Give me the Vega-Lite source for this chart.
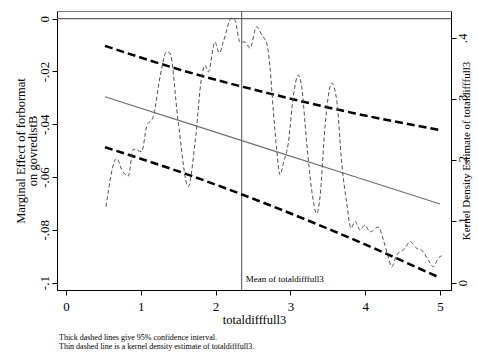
{
  "$schema": "https://vega.github.io/schema/vega-lite/v6.json",
  "width": 394,
  "height": 279,
  "autosize": {"type": "none"},
  "padding": {"left": 57, "top": 11, "right": 27, "bottom": 62},
  "background": "white",
  "config": {
    "font": "Liberation Serif",
    "view": {"stroke": "#808080", "strokeWidth": 1},
    "title": {"color": "black", "font": "Liberation Serif"},
    "axis": {
      "grid": false,
      "domainColor": "#000000",
      "tickColor": "#000000",
      "labelColor": "#000000",
      "titleColor": "#000000",
      "labelFont": "Liberation Serif",
      "titleFont": "Liberation Serif",
      "labelFontSize": 13,
      "titleFontSize": 12.5,
      "titleFontWeight": "normal",
      "tickSize": 5,
      "domainWidth": 1,
      "tickWidth": 1
    }
  },
  "title": {
    "text": [
      "Thick dashed lines give 95% confidence interval.",
      "Thin dashed line is a kernel density estimate of totaldifffull3."
    ],
    "orient": "bottom",
    "anchor": "start",
    "frame": "group",
    "font": "Liberation Serif",
    "fontSize": 8,
    "fontWeight": "normal",
    "color": "black",
    "lineHeight": 9,
    "offset": 8,
    "dx": 2
  },
  "datasets": {
    "effect": [
      {"x": 0.521, "center": -0.0296, "upper": -0.0103, "lower": -0.0487},
      {"x": 1.591, "center": -0.0393, "upper": -0.0199, "lower": -0.0587},
      {"x": 2.727, "center": -0.0496, "upper": -0.0284, "lower": -0.0707},
      {"x": 3.864, "center": -0.0599, "upper": -0.0359, "lower": -0.0839},
      {"x": 5.0, "center": -0.0702, "upper": -0.0422, "lower": -0.0982}
    ],
    "density": [
      {"x": 0.535, "d": 0.124}, {"x": 0.678, "d": 0.203}, {"x": 0.744, "d": 0.185},
      {"x": 0.833, "d": 0.174}, {"x": 0.9, "d": 0.218}, {"x": 1.012, "d": 0.214},
      {"x": 1.079, "d": 0.255}, {"x": 1.167, "d": 0.271}, {"x": 1.257, "d": 0.336},
      {"x": 1.346, "d": 0.377}, {"x": 1.39, "d": 0.375}, {"x": 1.497, "d": 0.266},
      {"x": 1.635, "d": 0.157}, {"x": 1.725, "d": 0.228}, {"x": 1.814, "d": 0.336},
      {"x": 1.858, "d": 0.355}, {"x": 1.902, "d": 0.344}, {"x": 1.992, "d": 0.393},
      {"x": 2.049, "d": 0.375}, {"x": 2.103, "d": 0.393}, {"x": 2.215, "d": 0.432},
      {"x": 2.259, "d": 0.429}, {"x": 2.326, "d": 0.393}, {"x": 2.393, "d": 0.393},
      {"x": 2.46, "d": 0.383}, {"x": 2.549, "d": 0.418}, {"x": 2.62, "d": 0.404},
      {"x": 2.683, "d": 0.391}, {"x": 2.727, "d": 0.353}, {"x": 2.771, "d": 0.282},
      {"x": 2.817, "d": 0.217}, {"x": 2.861, "d": 0.176}, {"x": 2.905, "d": 0.195},
      {"x": 2.972, "d": 0.228}, {"x": 3.039, "d": 0.304}, {"x": 3.106, "d": 0.339},
      {"x": 3.151, "d": 0.32}, {"x": 3.218, "d": 0.228}, {"x": 3.285, "d": 0.151},
      {"x": 3.352, "d": 0.113}, {"x": 3.396, "d": 0.14}, {"x": 3.463, "d": 0.255},
      {"x": 3.552, "d": 0.326}, {"x": 3.619, "d": 0.298}, {"x": 3.686, "d": 0.195},
      {"x": 3.753, "d": 0.13}, {"x": 3.81, "d": 0.089}, {"x": 3.864, "d": 0.1},
      {"x": 3.93, "d": 0.086}, {"x": 3.997, "d": 0.094}, {"x": 4.064, "d": 0.083},
      {"x": 4.175, "d": 0.091}, {"x": 4.242, "d": 0.07}, {"x": 4.309, "d": 0.042},
      {"x": 4.354, "d": 0.026}, {"x": 4.421, "d": 0.045}, {"x": 4.532, "d": 0.056},
      {"x": 4.599, "d": 0.067}, {"x": 4.689, "d": 0.056}, {"x": 4.755, "d": 0.053},
      {"x": 4.844, "d": 0.037}, {"x": 4.91, "d": 0.026}, {"x": 4.977, "d": 0.04},
      {"x": 5.023, "d": 0.044}
    ],
    "meanline": [
      {"x": 2.349, "y": -0.1, "label": "Mean of totaldifffull3"}
    ],
    "zeroline": [
      {"y": 0}
    ]
  },
  "layer": [
    {
      "layer": [
        {
          "data": {"name": "zeroline"},
          "mark": {"type": "rule", "color": "#606060", "strokeWidth": 1.4},
          "encoding": {
            "y": {
              "field": "y",
              "type": "quantitative",
              "scale": {"domain": [-0.1028, 0.0029], "nice": false, "zero": false},
              "axis": {
                "orient": "left",
                "values": [0, -0.02, -0.04, -0.06, -0.08, -0.1],
                "labelExpr": "datum.value == 0 ? '0' : '-' + replace(format(abs(datum.value), '.2~f'), '0.', '.')",
                "labelAngle": -90,
                "labelAlign": "center",
                "labelBaseline": "bottom",
                "labelPadding": 1,
                "title": ["Marginal Effect of forbormat", "on govredistB"],
                "titleLineHeight": 12,
                "titlePadding": -1
              }
            }
          }
        },
        {
          "data": {"name": "meanline"},
          "mark": {"type": "rule", "color": "#505050", "strokeWidth": 1},
          "encoding": {
            "x": {
              "field": "x",
              "type": "quantitative",
              "scale": {"domain": [-0.12, 5.147], "nice": false, "zero": false},
              "axis": {
                "values": [0, 1, 2, 3, 4, 5],
                "format": "d",
                "labelPadding": 5,
                "titlePadding": 0,
                "title": "totaldifffull3"
              }
            }
          }
        },
        {
          "data": {"name": "meanline"},
          "mark": {"type": "text", "align": "left", "baseline": "alphabetic", "dx": 4, "dy": -1, "fontSize": 9, "font": "Liberation Serif", "color": "#000000"},
          "encoding": {
            "x": {"field": "x", "type": "quantitative"},
            "y": {"field": "y", "type": "quantitative"},
            "text": {"field": "label"}
          }
        },
        {
          "data": {"name": "effect"},
          "mark": {"type": "line", "color": "#707070", "strokeWidth": 1.2},
          "encoding": {
            "x": {"field": "x", "type": "quantitative"},
            "y": {"field": "center", "type": "quantitative"}
          }
        },
        {
          "data": {"name": "effect"},
          "mark": {"type": "line", "color": "#000000", "strokeWidth": 2.5, "strokeDash": [8, 4], "interpolate": "monotone"},
          "encoding": {
            "x": {"field": "x", "type": "quantitative"},
            "y": {"field": "upper", "type": "quantitative"}
          }
        },
        {
          "data": {"name": "effect"},
          "mark": {"type": "line", "color": "#000000", "strokeWidth": 2.5, "strokeDash": [8, 4], "interpolate": "monotone"},
          "encoding": {
            "x": {"field": "x", "type": "quantitative"},
            "y": {"field": "lower", "type": "quantitative"}
          }
        }
      ]
    },
    {
      "data": {"name": "density"},
      "mark": {"type": "line", "color": "#505050", "strokeWidth": 1, "strokeDash": [4, 2.5], "interpolate": "monotone"},
      "encoding": {
        "x": {"field": "x", "type": "quantitative"},
        "y": {
          "field": "d",
          "type": "quantitative",
          "scale": {"domain": [-0.0119, 0.4436], "nice": false, "zero": false},
          "axis": {
            "orient": "right",
            "values": [0, 0.1, 0.2, 0.3, 0.4],
            "labelExpr": "datum.value == 0 ? '0' : replace(format(datum.value, '.1f'), '0.', '.')",
            "labelAngle": -90,
            "labelAlign": "center",
            "labelBaseline": "top",
            "labelFontSize": 12.5,
            "labelPadding": 0,
            "title": "Kernel Density Estimate of totaldifffull3",
            "titleFontSize": 11,
            "titleAngle": -90,
            "titlePadding": 3
          }
        }
      }
    }
  ],
  "resolve": {"scale": {"y": "independent"}}
}
